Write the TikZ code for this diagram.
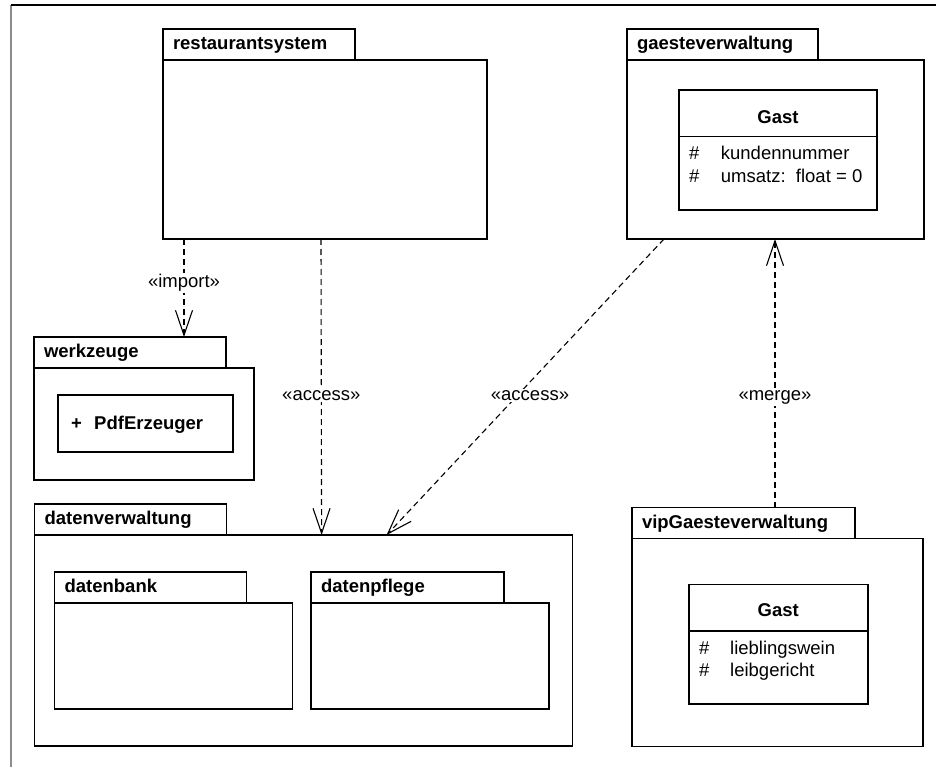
\documentclass[tikz,border=0pt]{standalone}
\usepackage{fontspec}
\setmainfont{Liberation Sans}
\usetikzlibrary{positioning, calc, arrows.meta}
\newcommand{\umlfont}{\fontsize{18.5pt}{22.7pt}\selectfont}
\tikzset{
    pkg body/.style={draw, line width=1.3pt, anchor=north west, inner sep=0pt, outer sep=0pt},
    pkg tab/.style={draw, line width=1.3pt, anchor=south west, inner xsep=10pt, inner ysep=0pt, outer sep=0pt, minimum height=31pt, text height=13.5pt, text depth=3.5pt, align=left, font=\umlfont\bfseries},
    class box/.style={draw, line width=1.3pt, anchor=north west, inner sep=0pt, outer sep=0pt},
    class name/.style={font=\umlfont\bfseries, inner sep=0pt},
    attr/.style={anchor=base west, inner sep=0pt, font=\umlfont},
    dep/.style={dash pattern=on 6pt off 4pt, line width=1.1pt, -{Straight Barb[length=25pt, width=17pt]}},
    dep label/.style={fill=white, inner sep=1.5pt, font=\umlfont},
}
\newcommand{\drawpackage}[6]{
    \node[pkg body, minimum width=#4, minimum height=#5] (#1) at (#2) {};
    \node[pkg tab, text width=#6] (#1 tab) at (#1.north west) {#3};
}

\begin{document}
\begin{tikzpicture}[x=1pt, y=-1pt]
    \useasboundingbox (0,0) rectangle (936,767);
    % frame
    \draw[line width=2pt, black!45] (11,5) -- (11,767);
    \draw[line width=1.2pt] (11,5) -- (936,5);
    % packages
    \drawpackage{rs}{163,60}{restaurantsystem}{324pt}{179pt}{172pt}
    \drawpackage{gv}{627,60}{gaesteverwaltung}{297pt}{179pt}{171pt}
    \drawpackage{wz}{34,368}{werkzeuge}{220pt}{112pt}{172pt}
    \drawpackage{dv}{34.6,535}{datenverwaltung}{538pt}{211pt}{172pt}
    \drawpackage{db}{54.6,603}{datenbank}{238pt}{106pt}{172pt}
    \drawpackage{dp}{311,603}{datenpflege}{238pt}{106pt}{173pt}
    \drawpackage{vip}{632,538.7}{vipGaesteverwaltung}{291pt}{208pt}{203pt}
    % class Gast in gaesteverwaltung
    \node[class box, minimum width=198pt, minimum height=120pt] (gvGast) at (679,90) {};
    \draw[line width=1.3pt] ($(gvGast.north west)+(0,46.7)$) -- ($(gvGast.north east)+(0,46.7)$);
    \node[class name] (gvGast name) at (778,116.7) {Gast};
    \node[attr] (gvGast v1) at (689,160) {\#};
    \node[attr] (gvGast a1) at (720.7,160) {kundennummer};
    \node[attr] (gvGast v2) at (689,182.7) {\#};
    \node[attr] (gvGast a2) at (720.7,182.7) {umsatz:\ \ float = 0};
    % class Gast in vipGaesteverwaltung
    \node[class box, minimum width=179pt, minimum height=119.3pt] (vipGast) at (689,584.7) {};
    \draw[line width=1.3pt] ($(vipGast.north west)+(0,46.3)$) -- ($(vipGast.north east)+(0,46.3)$);
    \node[class name] (vipGast name) at (778.3,610) {Gast};
    \node[attr] (vipGast v1) at (699,654.3) {\#};
    \node[attr] (vipGast a1) at (730,654.3) {lieblingswein};
    \node[attr] (vipGast v2) at (699,676) {\#};
    \node[attr] (vipGast a2) at (730,676) {leibgericht};
    % class PdfErzeuger in werkzeuge
    \node[class box, line width=2pt, minimum width=175.3pt, minimum height=56.7pt] (pdf) at (57.7,395) {};
    \node[attr, font=\umlfont\bfseries] (pdf vis) at (71,429) {+};
    \node[attr, font=\umlfont\bfseries] (pdf name) at (94,429) {PdfErzeuger};
    % dependencies
    \draw[dep] ($(rs.south west)+(21,0)$) -- node[dep label, pos=0.45] (imp) {«import»} ($(wz tab.north west)+(150,0)$);
    \draw[dep] ($(rs.south west)+(158,0)$) -- node[dep label, pos=0.53] (acc1) {«access»} ($(dv.north west)+(287,0)$);
    \draw[dep] ($(gv.south west)+(37,0)$) -- node[dep label, pos=0.53, xshift=13pt] (acc2) {«access»} ($(dv.north west)+(352,0)$);
    \draw[dep] ($(vip tab.north west)+(143,0)$) -- node[dep label, pos=0.41] (mrg) {«merge»} ($(gv.south west)+(148,0)$);
\end{tikzpicture}
\end{document}
